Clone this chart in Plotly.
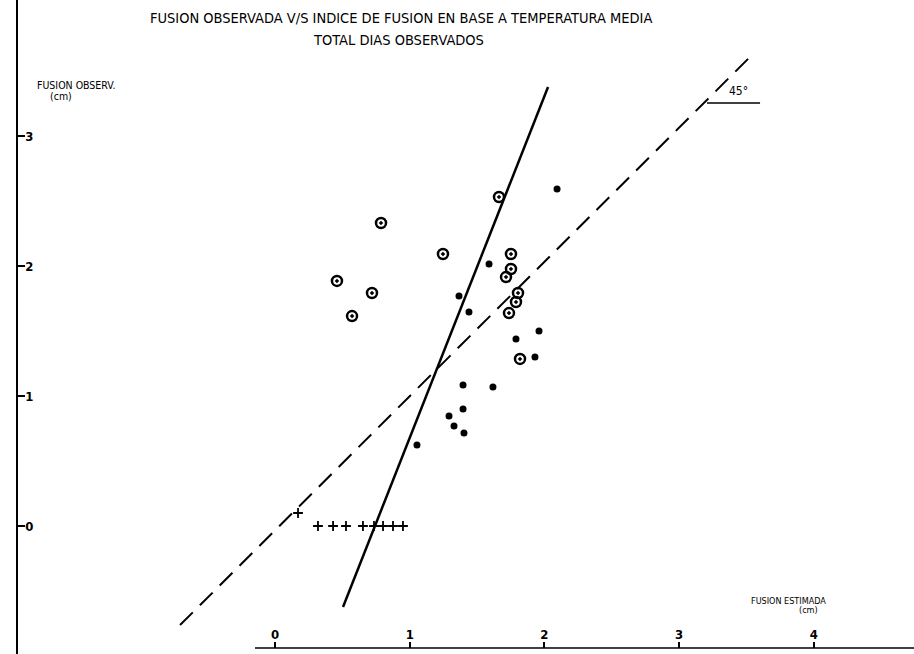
import plotly.graph_objects as go

# ---- data ----
open_x = [1.663, 1.247, 0.787, 0.460, 0.720, 0.572, 1.752, 1.752, 1.715, 1.804, 1.789, 1.737, 1.819]
open_y = [2.531, 2.092, 2.331, 1.885, 1.792, 1.615, 2.092, 1.977, 1.915, 1.792, 1.723, 1.638, 1.285]

dot_x = [2.094, 1.589, 1.366, 1.440, 1.960, 1.789, 1.930, 1.396, 1.618, 1.396, 1.292, 1.329, 1.403, 1.054]
dot_y = [2.592, 2.015, 1.769, 1.646, 1.500, 1.438, 1.300, 1.085, 1.069, 0.900, 0.846, 0.769, 0.715, 0.623]

cross_x = [0.171, 0.319, 0.431, 0.527, 0.653, 0.735, 0.802, 0.876, 0.950]
cross_y = [0.100, 0.0, 0.0, 0.0, 0.0, 0.0, 0.0, 0.0, 0.0]

fit_x = [0.505, 2.027]
fit_y = [-0.623, 3.377]

line45_x = [-0.705, 3.541]
line45_y = [-0.762, 3.623]

x_tickvals = [0, 1, 2, 3, 4]
x_ticktext = ["0", "1", "2", "3", "4"]
y_tickvals = [0, 1, 2, 3]
y_ticktext = ["0", "1", "2", "3"]

W, H = 914, 654
FONT = "Liberation Sans Narrow, DejaVu Sans Condensed, Arial Narrow, sans-serif"

fig = go.Figure()

fig.add_trace(go.Scatter(x=line45_x, y=line45_y, mode="lines",
                         line=dict(color="black", width=2, dash="18px,10px"),
                         showlegend=False, hoverinfo="skip"))
fig.add_trace(go.Scatter(x=fit_x, y=fit_y, mode="lines",
                         line=dict(color="black", width=2.5),
                         showlegend=False, hoverinfo="skip"))
fig.add_trace(go.Scatter(x=open_x, y=open_y, mode="markers",
                         marker=dict(symbol="circle-open-dot", size=10, color="black",
                                     line=dict(width=2.5, color="black")),
                         showlegend=False))
fig.add_trace(go.Scatter(x=dot_x, y=dot_y, mode="markers",
                         marker=dict(symbol="circle", size=7, color="black"),
                         showlegend=False))
fig.add_trace(go.Scatter(x=cross_x, y=cross_y, mode="markers",
                         marker=dict(symbol="cross-thin", size=7, color="black",
                                     line=dict(width=1.8, color="black")),
                         showlegend=False))

xr = [(0 - 275) / 134.7, (W - 275) / 134.7]
yr = [(526 - H) / 130, (526 - 0) / 130]

fig.update_layout(
    width=W, height=H,
    margin=dict(l=0, r=0, t=0, b=0, pad=0, autoexpand=False),
    paper_bgcolor="white", plot_bgcolor="white",
    showlegend=False,
    font=dict(family=FONT, color="black"),
    xaxis=dict(range=xr, domain=[0, 1], anchor="free", position=6 / H,
               automargin=False,
               showgrid=False, zeroline=False, showline=False,
               tickvals=x_tickvals, ticktext=["<b>%s</b>" % t for t in x_ticktext],
               ticks="inside", ticklen=6, tickwidth=1.5, tickcolor="black",
               ticklabelposition="inside",
               tickfont=dict(family=FONT, size=13, color="black")),
    yaxis=dict(range=yr, domain=[0, 1], anchor="free", position=17 / W,
               automargin=False,
               showgrid=False, zeroline=False,
               showline=True, linecolor="black", linewidth=1.6,
               tickvals=y_tickvals, ticktext=["<b>%s</b>" % t for t in y_ticktext],
               ticks="inside", ticklen=7, tickwidth=1.5, tickcolor="black",
               ticklabelposition="inside",
               tickfont=dict(family=FONT, size=13, color="black")),
)

# bottom axis line (starts near x pixel 255 in the reference)
fig.add_shape(type="line", xref="paper", yref="paper",
              x0=255 / W, x1=1, y0=6 / H, y1=6 / H,
              line=dict(color="black", width=1.5))

# 45 degree marker underline
fig.add_shape(type="line", xref="x", yref="y",
              x0=3.207, x1=3.601, y0=3.254, y1=3.254,
              line=dict(color="black", width=1.5))


def ann(text, px, py, size, xanchor="center"):
    fig.add_annotation(text=text, xref="paper", yref="paper",
                       x=px / W, y=1 - py / H, showarrow=False,
                       xanchor=xanchor, yanchor="middle",
                       font=dict(family=FONT, size=size, color="black"))


ann("FUSION OBSERVADA V/S INDICE DE FUSION EN BASE A TEMPERATURA MEDIA", 401, 18, 14.5)
ann("TOTAL DIAS OBSERVADOS", 398, 40, 14.5)
ann("FUSION OBSERV.", 35, 85, 10.5, xanchor="left")
ann("(cm)", 48, 96, 10.5, xanchor="left")
ann("FUSION ESTIMADA", 788, 601, 9)
ann("(cm)", 808, 610, 9)
ann("45°", 738, 91, 12)

fig.write_html("out.html",
               config={"displayModeBar": False},
               post_script="document.body.style.margin='0px';document.body.style.overflow='hidden';")
